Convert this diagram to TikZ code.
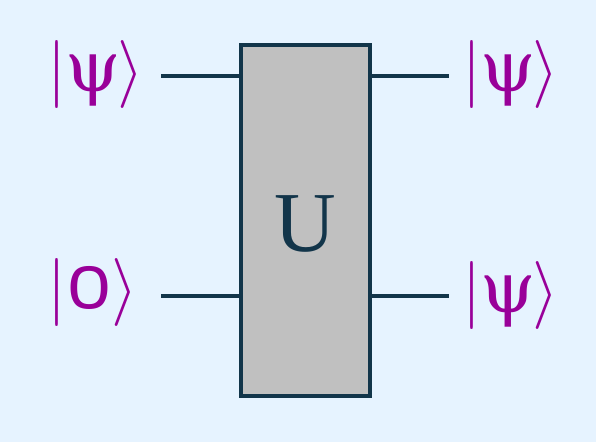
\documentclass[tikz,border=0pt]{standalone}
\usepackage{graphicx}
\usepackage{fontspec}
\setmainfont{Liberation Serif}
\newfontfamily\psifont{DejaVu Serif}
\newfontfamily\sansz{Poppins}
\definecolor{bg}{HTML}{E6F3FF}
\definecolor{wire}{HTML}{12354A}
\definecolor{ketc}{HTML}{990099}
\definecolor{boxfill}{HTML}{C0C0C0}
\tikzset{
  wireline/.style={draw=wire, line width=2.3pt},
  ket/.style={text=ketc, inner sep=0pt},
  gate/.style={draw=wire, fill=boxfill, line width=2.3pt},
}
\newcommand{\bigsym}[1]{{\fontsize{10}{12}\selectfont\scalebox{5.1}{$#1$}}}
\newcommand{\myket}[1]{\bigsym{\vert}\kern-1pt#1\kern-2pt\bigsym{\rangle}}
\newcommand{\psig}{{\psifont\fontsize{53}{58}\selectfont ψ}}
\begin{document}
\begin{tikzpicture}[x=0.75pt,y=-0.75pt]
\fill[bg] (0,0) rectangle (596,442);
\useasboundingbox (0,0) rectangle (596,442);
\draw[gate] (241,45) rectangle (370,396);
\node[text=wire, font=\fontsize{64}{70}\selectfont] (U) at (305.5,224) {U};
\coordinate (gl1) at (241,76);
\coordinate (gl2) at (241,296);
\coordinate (gr1) at (370,76);
\coordinate (gr2) at (370,296);
\node[ket] (in1) at (96,75) {\myket{\psig}};
\node[ket] (in2) at (93,292) {\myket{\kern1pt\scalebox{1.25}[1]{\sansz\fontsize{44}{50}\selectfont 0}\kern1pt}};
\node[ket] (out1) at (511,75) {\myket{\psig}};
\node[ket] (out2) at (511,295) {\myket{\psig}};
\coordinate (a1) at (161,76);
\coordinate (a2) at (161,296);
\coordinate (b1) at (449,76);
\coordinate (b2) at (449,296);
\draw[wireline] (a1) -- (gl1);
\draw[wireline] (a2) -- (gl2);
\draw[wireline] (gr1) -- (b1);
\draw[wireline] (gr2) -- (b2);
\end{tikzpicture}
\end{document}
